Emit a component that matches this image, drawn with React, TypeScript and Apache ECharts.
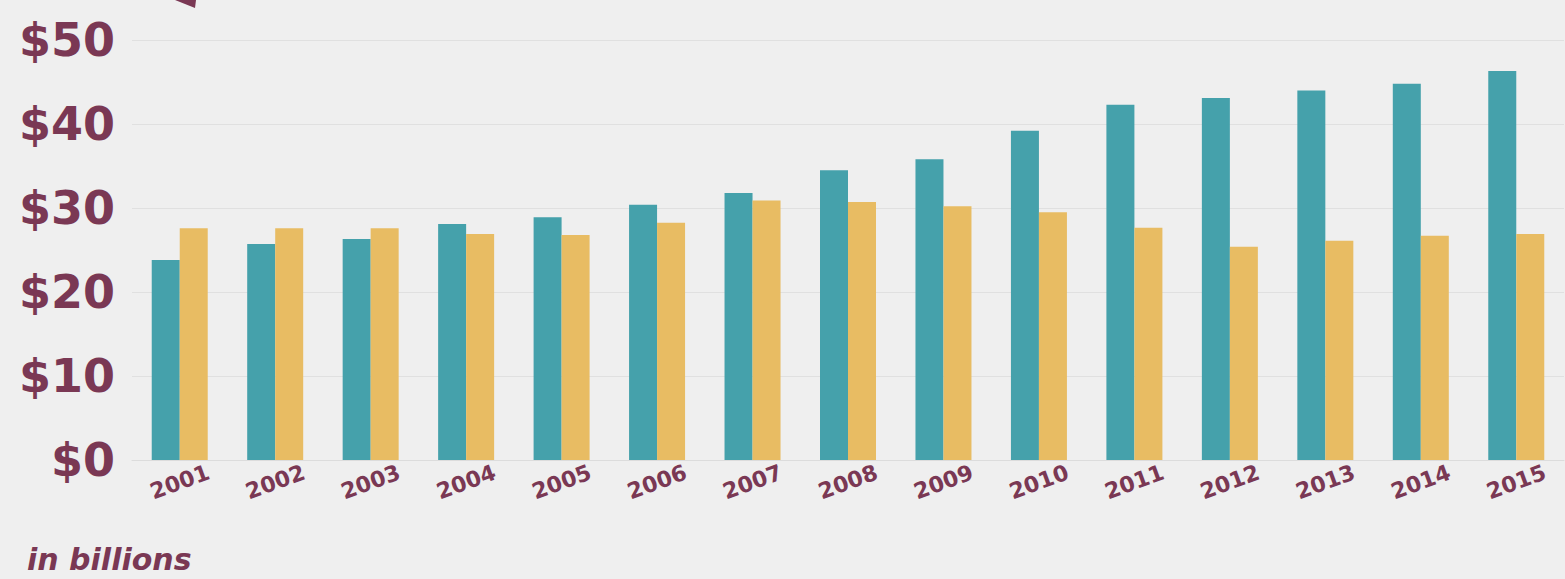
import React, { useEffect, useRef } from "react";
import * as echarts from "echarts";

const years = ["2001","2002","2003","2004","2005","2006","2007","2008","2009","2010","2011","2012","2013","2014","2015"];
const tealValues = [23.8, 25.7, 26.3, 28.1, 28.9, 30.4, 31.8, 34.5, 35.8, 39.2, 42.3, 43.1, 44.0, 44.8, 46.3];
const goldValues = [27.6, 27.6, 27.6, 26.9, 26.8, 28.25, 30.9, 30.7, 30.2, 29.5, 27.65, 25.4, 26.1, 26.7, 26.9];
const yTicks = [0, 10, 20, 30, 40, 50];

const MAROON = "#7a3854";
const TEAL = "#45a1ab";
const GOLD = "#e8bc63";
const BG = "#efefef";

export default function App() {
  const ref = useRef<HTMLDivElement>(null);
  useEffect(() => {
    document.body.style.margin = "0";
    const chart = echarts.init(ref.current!, null, { renderer: "svg" });
    chart.setOption({
      animation: false,
      backgroundColor: BG,
      grid: { left: 132, right: 1, top: 40, bottom: 119, containLabel: false },
      xAxis: {
        type: "category",
        data: years,
        axisLine: { show: true, lineStyle: { color: "#dcdcdc", width: 1 } },
        axisTick: { show: false },
        axisLabel: {
          rotate: 20,
          align: "center",
          verticalAlign: "middle",
          margin: 22,
          color: MAROON,
          fontFamily: "DejaVu Sans",
          fontWeight: "bold",
          fontSize: 22,
        },
      },
      yAxis: {
        type: "value",
        min: yTicks[0],
        max: yTicks[yTicks.length - 1],
        interval: 10,
        axisLine: { show: false },
        axisTick: { show: false },
        splitLine: { lineStyle: { color: "#e0e0e0", width: 1 } },
        axisLabel: {
          formatter: (v: number) => "$" + v,
          color: MAROON,
          fontFamily: "DejaVu Sans",
          fontWeight: "bold",
          fontSize: 46,
          margin: 17,
        },
      },
      series: [
        {
          type: "bar",
          data: tealValues,
          barWidth: 28,
          barGap: "0%",
          itemStyle: { color: TEAL },
        },
        {
          type: "bar",
          data: goldValues,
          barWidth: 28,
          barGap: "0%",
          itemStyle: { color: GOLD },
        },
      ],
      graphic: [
        {
          type: "text",
          left: 27,
          top: 544,
          style: {
            text: "in billions",
            fill: MAROON,
            font: "italic bold 30px 'DejaVu Sans'",
          },
        },
        {
          type: "polygon",
          shape: { points: [[175, 0], [196, 0], [195, 8]] },
          style: { fill: MAROON, lineWidth: 0 },
        },
      ],
    });
    return () => chart.dispose();
  }, []);
  return (
    <div
      ref={ref}
      style={{ position: "absolute", left: 0, top: 0, width: 1565, height: 579 }}
    />
  );
}
